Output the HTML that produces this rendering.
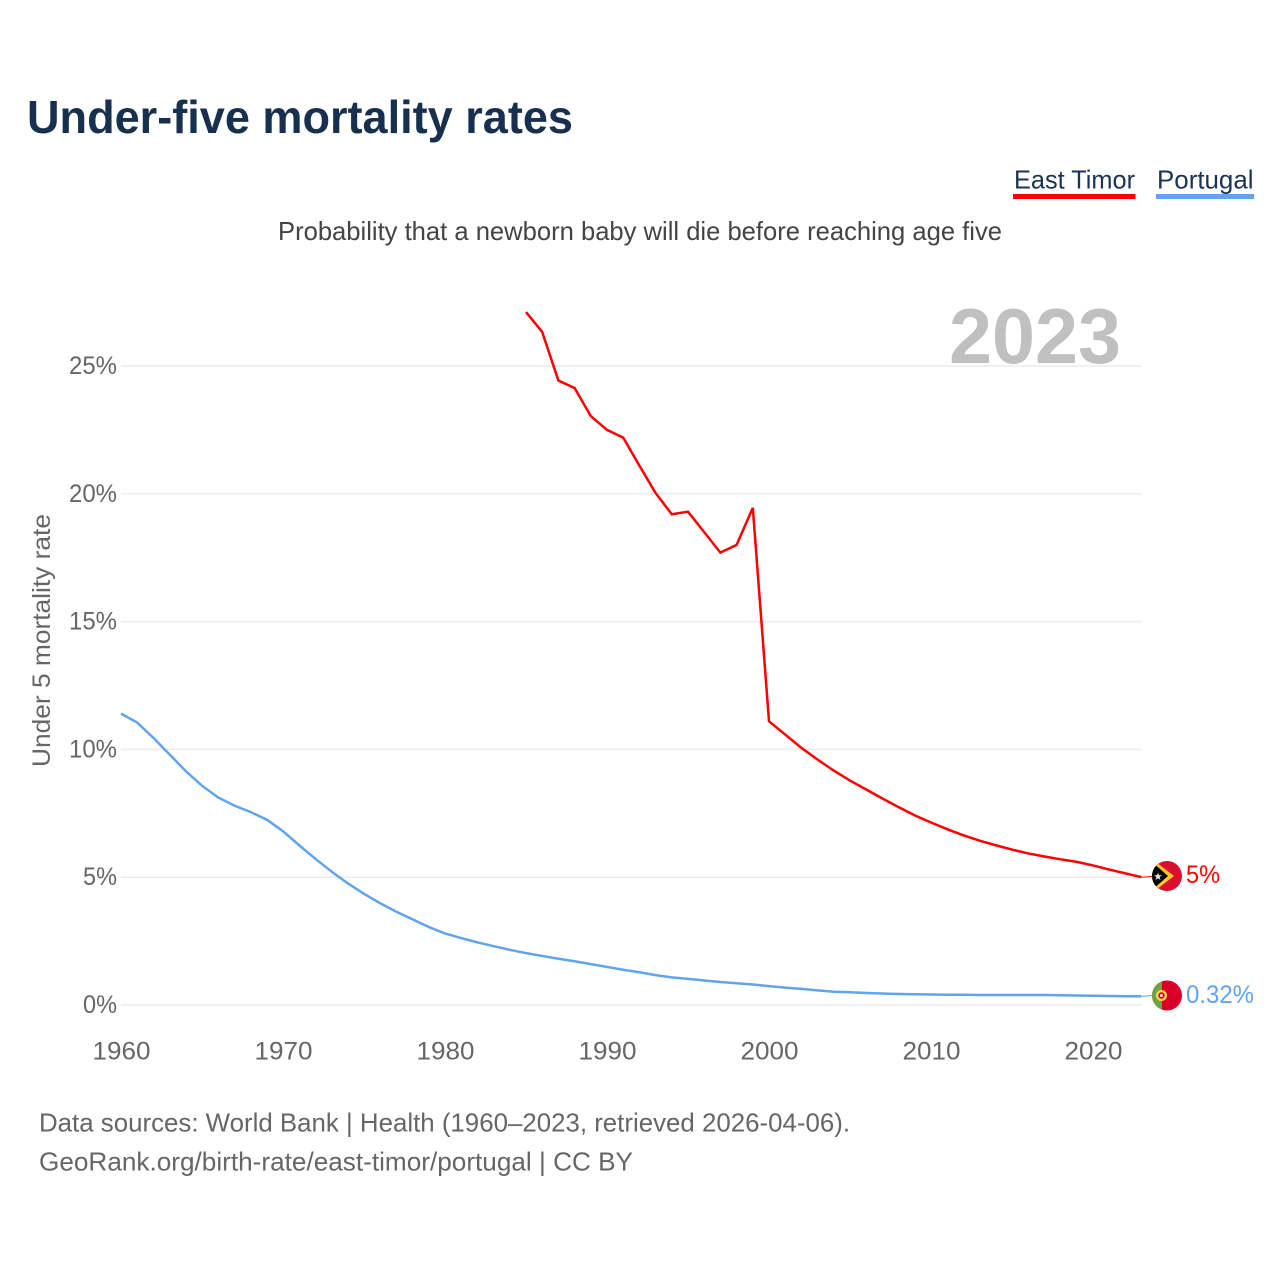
<!DOCTYPE html>
<html lang="en">
<head>
<meta charset="utf-8">
<title>Under-five mortality rates</title>
<style>
html,body{margin:0;padding:0;background:#fff;}
svg{display:block;font-family:"Liberation Sans",sans-serif;}
</style>
</head>
<body>
<svg id="chart" xmlns="http://www.w3.org/2000/svg" width="1280" height="1280" viewBox="0 0 1280 1280">
  <rect width="1280" height="1280" fill="#fff"/>
  <text x="27" y="133" font-size="46" font-weight="700" fill="#17304f" textLength="546" lengthAdjust="spacingAndGlyphs">Under-five mortality rates</text>
  <text x="1014" y="188.500" font-size="26" fill="#1b3354" textLength="121" lengthAdjust="spacingAndGlyphs">East Timor</text>
  <rect x="1013" y="194" width="122.500" height="5" fill="#ff0000"/>
  <text x="1157" y="188.500" font-size="26" fill="#1b3354" textLength="96.500" lengthAdjust="spacingAndGlyphs">Portugal</text>
  <rect x="1156" y="194" width="98" height="5" fill="#60a5ec"/>
  <text x="278" y="240" font-size="26" fill="#444" textLength="724" lengthAdjust="spacingAndGlyphs">Probability that a newborn baby will die before reaching age five</text>
  <g id="grid"></g>
  <text x="949" y="363" font-size="78" font-weight="700" fill="#c0c0c0" textLength="172" lengthAdjust="spacingAndGlyphs">2023</text>
  <text transform="translate(50,767) rotate(-90)" font-size="25" fill="#666" textLength="253" lengthAdjust="spacingAndGlyphs">Under 5 mortality rate</text>
  <g id="yticks"></g>
  <g id="xticks"></g>
  <g id="lines"></g>

  <g>
    <clipPath id="clipTL"><circle cx="1167" cy="876" r="15"/></clipPath>
    <g clip-path="url(#clipTL)">
      <rect x="1152" y="861" width="30" height="30" fill="#dc0e2f"/>
      <polygon points="1152,859 1174,876 1152,893" fill="#ffc72c"/>
      <polygon points="1152,862 1168,876 1152,890" fill="#000"/>
      <polygon points="1158,872.500 1159,875.200 1162,875.200 1159.600,877 1160.500,880 1158,878.200 1155.500,880 1156.400,877 1154,875.200 1157,875.200" fill="#e8e8e8"/>
    </g>
  </g>
  <g>
    <clipPath id="clipPT"><circle cx="1167" cy="995.500" r="15"/></clipPath>
    <g clip-path="url(#clipPT)">
      <rect x="1152" y="980" width="30" height="31" fill="#d80027"/>
      <rect x="1152" y="980" width="10" height="31" fill="#6da544"/>
      <circle cx="1161.500" cy="995.500" r="5.500" fill="#ffda44"/>
      <circle cx="1161.500" cy="995.500" r="3.200" fill="#d80027"/>
      <circle cx="1161.500" cy="995.500" r="1.500" fill="#eee"/>
    </g>
  </g>
  <text x="1186" y="883" font-size="25" fill="#ff0000" textLength="34" lengthAdjust="spacingAndGlyphs">5%</text>
  <text x="1186" y="1003" font-size="25" fill="#60a5ec" textLength="68" lengthAdjust="spacingAndGlyphs">0.32%</text>

  <text x="39" y="1131.500" font-size="26" fill="#666" textLength="811" lengthAdjust="spacingAndGlyphs">Data sources: World Bank | Health (1960–2023, retrieved 2026-04-06).</text>
  <text x="39" y="1170.500" font-size="26" fill="#666" textLength="594" lengthAdjust="spacingAndGlyphs">GeoRank.org/birth-rate/east-timor/portugal | CC BY</text>
</svg>
<script>
const yTickValues = [0, 5, 10, 15, 20, 25];
const xTickYears = [1960, 1970, 1980, 1990, 2000, 2010, 2020];
const portugalStartYear = 1960;
const eastTimorStartYear = 1985;
const portugalValues = [11.4,11.05,10.45,9.8,9.15,8.58,8.12,7.8,7.55,7.25,6.8,6.25,5.72,5.22,4.76,4.35,3.98,3.65,3.35,3.05,2.8,2.62,2.45,2.3,2.16,2.03,1.92,1.81,1.71,1.6,1.49,1.38,1.28,1.17,1.08,1.02,0.96,0.9,0.85,0.8,0.74,0.68,0.63,0.57,0.52,0.5,0.47,0.45,0.43,0.42,0.41,0.4,0.4,0.39,0.39,0.39,0.39,0.39,0.38,0.37,0.36,0.35,0.34,0.34];
const eastTimorValues = [27.11,26.33,24.43,24.14,23.04,22.5,22.2,21.1,20.03,19.2,19.3,18.5,17.7,18.0,19.45,11.1,10.58,10.06,9.6,9.17,8.78,8.43,8.08,7.74,7.42,7.14,6.88,6.64,6.43,6.25,6.08,5.93,5.81,5.7,5.6,5.46,5.3,5.15,5.0];

const SVGNS = 'http://www.w3.org/2000/svg';
function xScale(year) { return 121 + (year - 1960) * 16.2; }
function yScale(value) { return 1005 - value * 25.56; }
function linePoints(startYear, values) {
  return values.map((v, i) => xScale(startYear + i).toFixed(2) + ',' + yScale(v).toFixed(2)).join(' ');
}

const grid = document.getElementById('grid');
const yticks = document.getElementById('yticks');
const xticks = document.getElementById('xticks');
const lines = document.getElementById('lines');

yTickValues.forEach(v => {
  const g = document.createElementNS(SVGNS, 'line');
  
  
  g.setAttribute('x1', xScale(1960));
  g.setAttribute('x2', 1142);
  g.setAttribute('y1', yScale(v));
  g.setAttribute('y2', yScale(v));
  g.setAttribute('stroke', '#ececec');
  g.setAttribute('stroke-width', '1.5');
  grid.appendChild(g);

  const t = document.createElementNS(SVGNS, 'text');
  
  
  const label = v + '%';
  const w = label.length === 3 ? 48 : 34;
  t.setAttribute('x', 117 - w);
  t.setAttribute('y', yScale(v) + 8);
  t.setAttribute('font-size', '25');
  t.setAttribute('fill', '#666');
  t.setAttribute('textLength', w);
  t.setAttribute('lengthAdjust', 'spacingAndGlyphs');
  t.textContent = label;
  yticks.appendChild(t);
});

xTickYears.forEach(y => {
  const t = document.createElementNS(SVGNS, 'text');
  
  
  t.setAttribute('x', xScale(y) - 28.5);
  t.setAttribute('y', 1059.5);
  t.setAttribute('font-size', '25');
  t.setAttribute('fill', '#666');
  t.setAttribute('textLength', '58');
  t.setAttribute('lengthAdjust', 'spacingAndGlyphs');
  t.textContent = y;
  xticks.appendChild(t);
});

const blueLine = document.createElementNS(SVGNS, 'polyline');


blueLine.setAttribute('points', linePoints(portugalStartYear, portugalValues));
blueLine.setAttribute('fill', 'none');
blueLine.setAttribute('stroke', '#60a5ec');
blueLine.setAttribute('stroke-width', '2.5');
blueLine.setAttribute('stroke-linejoin', 'round');
lines.appendChild(blueLine);

const redLine = document.createElementNS(SVGNS, 'polyline');


redLine.setAttribute('points', linePoints(eastTimorStartYear, eastTimorValues));
redLine.setAttribute('fill', 'none');
redLine.setAttribute('stroke', '#ff0000');
redLine.setAttribute('stroke-width', '2.5');
lines.appendChild(redLine);

const redConn = document.createElementNS(SVGNS, 'line');


redConn.setAttribute('x1', 1142);
redConn.setAttribute('x2', 1152);
redConn.setAttribute('y1', yScale(eastTimorValues[eastTimorValues.length - 1]));
redConn.setAttribute('y2', 876.5);
redConn.setAttribute('stroke', '#ff0000');
redConn.setAttribute('stroke-width', '1');
lines.appendChild(redConn);

const blueConn = document.createElementNS(SVGNS, 'line');


blueConn.setAttribute('x1', 1142);
blueConn.setAttribute('x2', 1152);
blueConn.setAttribute('y1', yScale(portugalValues[portugalValues.length - 1]));
blueConn.setAttribute('y2', 995.5);
blueConn.setAttribute('stroke', '#60a5ec');
blueConn.setAttribute('stroke-width', '1');
lines.appendChild(blueConn);
</script>
</body>
</html>
